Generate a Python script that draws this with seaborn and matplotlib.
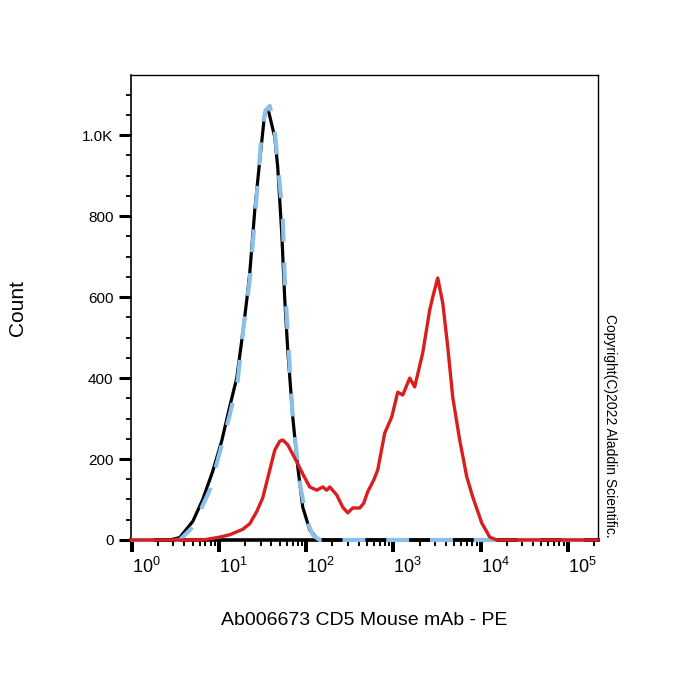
import matplotlib
matplotlib.use("Agg")
import matplotlib.pyplot as plt
import matplotlib.ticker as mticker
import numpy as np
import pandas as pd
import seaborn as sns

# histogram traces, x as log10(PE intensity), y as event count
black_log = [-0.01, 0.436, 0.55, 0.70, 0.814, 0.929, 1.032, 1.124, 1.204, 1.273, 1.319,
             1.353, 1.411, 1.468, 1.525, 1.56, 1.64, 1.674, 1.72, 1.755, 1.789, 1.846,
             1.904, 1.961, 2.041, 2.13, 2.21, 5.345]
black_count = [0, 0, 6, 46, 100, 170, 245, 330, 400, 511, 593,
               659, 815, 938, 1054, 1067, 995, 921, 758, 593, 469, 304,
               180, 81, 25, 2, 0, 0]

blue_log = [-0.01, 0.55, 0.70, 0.894, 1.032, 1.124, 1.216, 1.273, 1.353, 1.445, 1.491,
            1.537, 1.583, 1.64, 1.674, 1.732, 1.755, 1.778, 1.812, 1.846, 1.927, 2.007,
            2.076, 2.156, 5.345]
blue_count = [0, 0, 32, 123, 235, 309, 395, 511, 642, 881, 1012,
              1062, 1072, 1012, 931, 798, 642, 551, 427, 304, 141, 49,
              12, 0, 0]

red_log = [-0.01, 0.814, 1.009, 1.124, 1.27, 1.353, 1.433, 1.502, 1.583, 1.64, 1.697, 1.732,
           1.789, 1.892, 1.961, 2.041, 2.122, 2.19, 2.236, 2.271, 2.351, 2.42, 2.477,
           2.534, 2.615, 2.661, 2.706, 2.775, 2.821, 2.901, 2.982, 3.05, 3.108, 3.188,
           3.245, 3.337, 3.417, 3.452, 3.509, 3.567, 3.624, 3.681, 3.761, 3.842, 3.911,
           4.014, 4.106, 4.186, 5.345]
red_count = [0, 0, 7, 13, 26, 40, 70, 104, 173, 222, 244, 247,
             235, 193, 163, 131, 123, 131, 123, 131, 111, 81, 67,
             79, 79, 91, 119, 148, 173, 264, 304, 365, 358, 400,
             378, 462, 568, 600, 647, 585, 477, 353, 247, 156, 106,
             42, 7, 0, 0]

y_ticks = [0, 200, 400, 600, 800, 1000]
y_labels = ["0", "200", "400", "600", "800", "1.0K"]
x_decades = [0, 1, 2, 3, 4, 5]

sns.set_style("ticks")
plt.rcParams["font.family"] = ["Liberation Sans", "DejaVu Sans"]
plt.rcParams["mathtext.fontset"] = "custom"
plt.rcParams["mathtext.rm"] = "Liberation Sans"
plt.rcParams["mathtext.it"] = "Liberation Sans:italic"
for key in ["text.color", "axes.labelcolor", "xtick.color", "ytick.color"]:
    plt.rcParams[key] = "black"

fig = plt.figure(figsize=(7, 7), dpi=100)
ax = fig.add_axes([0.187, 0.2286, 0.667, 0.664])

traces = [
    (black_log, black_count, "#000000", 2.3, "-"),
    (blue_log, blue_count, "#8cc0e9", 3.0, (0, (5.5, 5))),
    (red_log, red_count, "#d81e1e", 2.4, "-"),
]
for i, (lx, cnt, color, lw, ls) in enumerate(traces):
    df = pd.DataFrame({"pe": np.power(10.0, lx), "count": cnt})
    sns.lineplot(data=df, x="pe", y="count", ax=ax, color=color, linewidth=lw,
                 linestyle=ls, zorder=3 + i, clip_on=False, sort=False)

ax.set_xscale("log")
ax.set_xlim(10 ** -0.01, 10 ** 5.345)
ax.set_ylim(0, 1148)

ax.set_xticks([10.0 ** d for d in x_decades])
ax.set_xticklabels([rf"$10^{{{d}}}$" for d in x_decades], fontsize=13)
ax.xaxis.set_minor_locator(mticker.LogLocator(base=10, subs=np.arange(2, 10)))
ax.xaxis.set_minor_formatter(mticker.NullFormatter())
plt.setp(ax.get_xticklabels(), ha="left")

ax.set_yticks(y_ticks)
ax.set_yticklabels(y_labels, fontsize=11)
ax.yaxis.set_minor_locator(mticker.MultipleLocator(50))

ax.tick_params(axis="x", which="major", length=8.5, width=2.9, pad=4)
ax.tick_params(axis="x", which="minor", length=4.3, width=1.4)
ax.tick_params(axis="y", which="major", length=8.5, width=2.2, pad=4)
ax.tick_params(axis="y", which="minor", length=3.6, width=1.3)

for side, w in [("bottom", 2.6), ("left", 1.2), ("top", 1.0), ("right", 1.0)]:
    ax.spines[side].set_visible(True)
    ax.spines[side].set_linewidth(w)
    ax.spines[side].set_color("black")

ax.set_xlabel("Ab006673 CD5 Mouse mAb - PE", fontsize=14)
ax.set_ylabel("Count", fontsize=15)
ax.xaxis.set_label_coords(0.5, -0.155)
ax.yaxis.set_label_coords(-0.222, 0.5)

fig.text(610 / 700, 1 - 426 / 700, "Copyright(C)2022 Aladdin Scientific.",
         rotation=-90, ha="center", va="center", fontsize=10)

fig.savefig("out.png", dpi=100)
